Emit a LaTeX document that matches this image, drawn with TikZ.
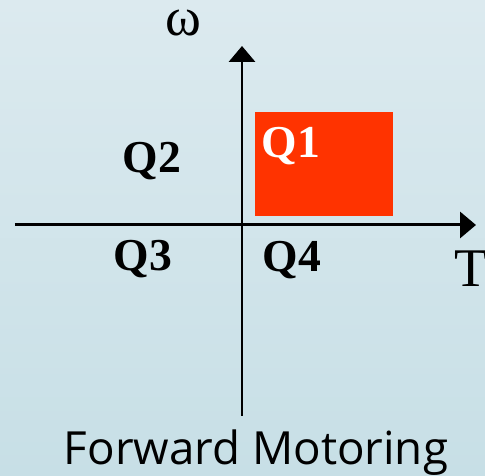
\documentclass[tikz,border=0pt]{standalone}
\usepackage{fontspec}
\setmainfont{Liberation Serif}
\setsansfont{Open Sans}
\usepackage{tikz}
\usetikzlibrary{arrows.meta,positioning}
\definecolor{bgtop}{RGB}{220,234,239}
\definecolor{bgbottom}{RGB}{199,223,230}
\definecolor{quadred}{RGB}{255,51,0}

\begin{document}
\begin{tikzpicture}[
    x=0.02cm, y=0.02cm,
    axis/.style={line width=1.7pt, -{Triangle[length=9pt,width=14.7pt]}},
    qlabel/.style={anchor=base, inner sep=0pt, font=\fontsize{26}{30}\selectfont\bfseries},
    axlabel/.style={anchor=base, inner sep=0pt, font=\fontsize{31}{34}\selectfont},
    caption/.style={anchor=base, inner sep=0pt, font=\fontsize{26}{30}\selectfont\sffamily}
  ]
    % Background
    \shade[top color=bgtop, bottom color=bgbottom] (0,0) rectangle (485,476);
    \useasboundingbox (0,0) rectangle (485,476);

    % Operating region
    \node[fill=quadred, minimum width=2.76cm, minimum height=2.08cm, inner sep=0pt] (q1box) at (324,312) {};

    % Axes
    \coordinate (wlow) at (242,60);
    \coordinate (whigh) at (242,430);
    \coordinate (tlow) at (15,251);
    \coordinate (thigh) at (476,251);
    \draw[axis] (wlow) -- (whigh);
    \draw[axis] (tlow) -- (thigh);

    % Labels
    \node[axlabel, text height=0.48em, text depth=0pt] (omega) at (183,440) {ω};
    \node[axlabel] (torque) at (471,189) {T};
    \node[qlabel, white] (q1) at (291,318) {Q1};
    \node[qlabel] (q2) at (152,303) {Q2};
    \node[qlabel] (q3) at (143,205) {Q3};
    \node[qlabel] (q4) at (292,204) {Q4};
    \node[caption] (mode) at (256,11) {Forward Motoring};
\end{tikzpicture}
\end{document}
